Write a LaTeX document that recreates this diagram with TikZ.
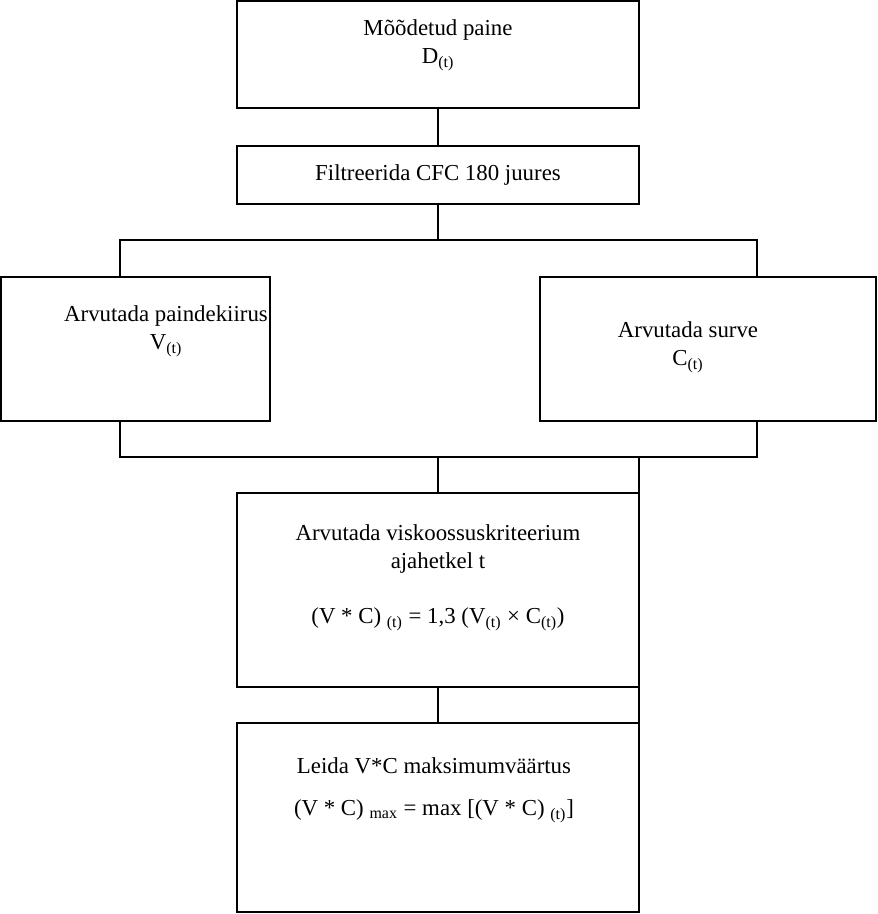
\documentclass[tikz,border=0pt]{standalone}
\usepackage{fontspec}
\setmainfont{Liberation Serif}
\usepackage{tikz}
\usetikzlibrary{positioning}
\tikzset{
  kast/.style={draw=black, line width=1pt, inner sep=0pt, outer sep=0pt},
  kiri/.style={font=\fontsize{13}{16}\selectfont, align=center, inner sep=0pt},
  joon/.style={draw=black, line width=1pt}
}

\begin{document}
\begin{tikzpicture}[x=0.02cm, y=-0.02cm]
\useasboundingbox (0,0) rectangle (877,914);
\node[kast, minimum width=8.04cm, minimum height=2.14cm] (paine) at (438,54.5) {};
\node[kast, minimum width=8.04cm, minimum height=1.16cm] (filter) at (438,175) {};
\node[kast, minimum width=5.38cm, minimum height=2.88cm] (kiirus) at (135.5,349) {};
\node[kast, minimum width=6.72cm, minimum height=2.88cm] (surve) at (708,349) {};
\node[kast, minimum width=8.04cm, minimum height=3.88cm] (visko) at (438,590) {};
\node[kast, minimum width=8.04cm, minimum height=3.78cm] (maks) at (438,817.5) {};
\node[kiri] (paineT) at (438,45) {Mõõdetud paine\\D\textsubscript{(t)}};
\node[kiri] (filterT) at (438,175) {Filtreerida CFC 180 juures};
\node[kiri] (kiirusT) at (166,331) {Arvutada paindekiirus\\V\textsubscript{(t)}};
\node[kiri] (surveT) at (688,347) {Arvutada surve\\C\textsubscript{(t)}};
\node[kiri] (viskoT) at (438,549) {Arvutada viskoossuskriteerium\\ajahetkel t};
\node[kiri] (viskoF) at (438,619) {(V * C) \textsubscript{(t)} = 1,3 (V\textsubscript{(t)} × C\textsubscript{(t)})};
\node[kiri] (maksT) at (434,766) {Leida V*C maksimumväärtus};
\node[kiri] (maksF) at (434,811) {(V * C) \textsubscript{max} = max [(V * C) \textsubscript{(t)}]};
\coordinate (ylal) at (438,240);
\coordinate (all) at (438,457);
\coordinate (vasak) at (120,240);
\coordinate (parem) at (757,240);
\draw[joon] (paine.south) -- (filter.north);
\draw[joon] (filter.south) -- (ylal);
\draw[joon] (kiirus.north -| vasak) |- (ylal) -| (surve.north -| parem);
\draw[joon] (kiirus.south -| vasak) |- (all) -| (surve.south -| parem);
\draw[joon] (all) -- (visko.north);
\draw[joon] (all -| visko.north east) -- (visko.north east);
\draw[joon] (visko.south) -- (maks.north);
\draw[joon] (visko.south east) -- (maks.north east);
\end{tikzpicture}
\end{document}
